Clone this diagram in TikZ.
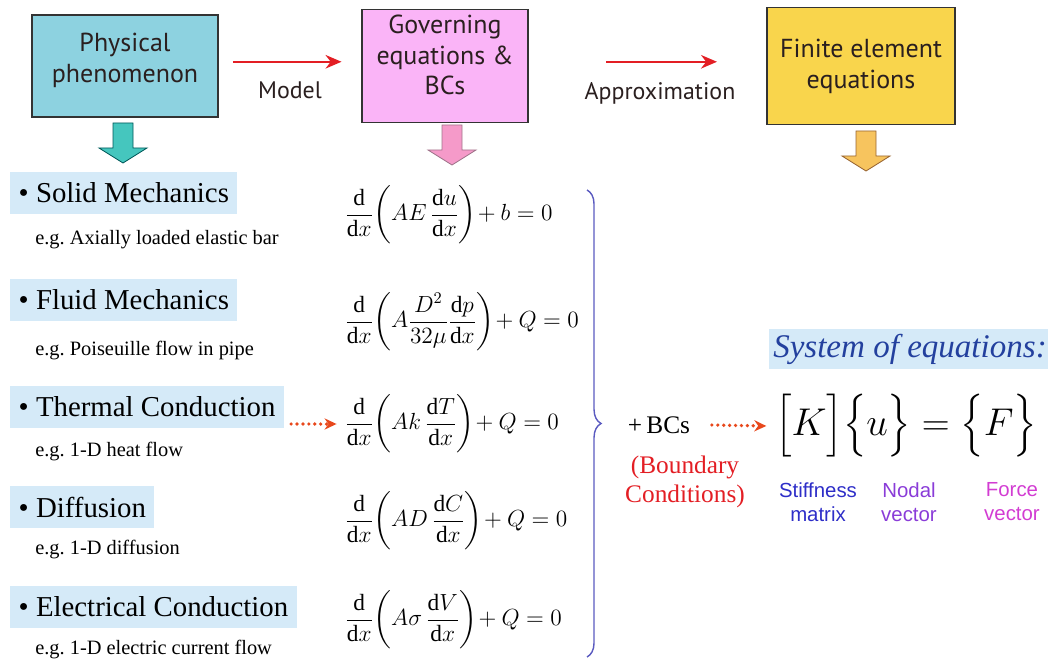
\RequirePackage{fix-cm}
\documentclass[tikz,border=0pt]{standalone}
\usepackage{amsmath}
\usepackage{fontspec}
\setmainfont{Liberation Serif}
\setsansfont{PT Sans}
\newfontfamily\arialfont{Liberation Sans}
\usetikzlibrary{arrows.meta,positioning,decorations.pathreplacing}
\definecolor{physbg}{HTML}{8DD2E0}
\definecolor{govbg}{HTML}{FAB4F7}
\definecolor{febg}{HTML}{F9D54C}
\definecolor{itembg}{HTML}{D5EAF8}
\definecolor{redx}{HTML}{E31E24}
\definecolor{dotx}{HTML}{E8481C}
\definecolor{bracex}{HTML}{5A5AC0}
\definecolor{sysblue}{HTML}{23409E}
\definecolor{stiffc}{HTML}{2E2EC8}
\definecolor{nodalc}{HTML}{8A3CD8}
\definecolor{forcec}{HTML}{D23CD2}
\definecolor{boxtext}{HTML}{2A1F1F}
\definecolor{arrcyan}{HTML}{45C6BE}
\definecolor{arrpink}{HTML}{F59AC9}
\definecolor{arryel}{HTML}{F7C45E}
\tikzset{
  ar/.style={-{Stealth[length=4mm,width=3.4mm]},line width=1.4pt,redx},
  dotar/.style={-{Stealth[length=3mm,width=2.8mm]},line width=2.6pt,dotx,line cap=round,
    dash pattern=on 0pt off 4.2pt},
  stepbox/.style={draw=black!80,line width=1.1pt,align=center,text=boxtext,
    font=\sffamily\fontsize{18.5}{22}\selectfont},
  sflabel/.style={font=\sffamily\fontsize{17}{20}\selectfont,text=boxtext},
  item/.style={fill=itembg,anchor=west,inner xsep=6pt,minimum height=30pt,
    font=\fontsize{20.5}{24}\selectfont},
  eg/.style={anchor=west,inner sep=0pt,font=\fontsize{14.5}{17}\selectfont},
  eqn/.style={anchor=west,inner sep=0pt,font=\fontsize{16.6}{19}\selectfont},
  vlabel/.style={align=center,font=\arialfont\fontsize{14.5}{17}\selectfont},
  downarr/.pic={\path[pic actions] (-10,0) -- (10,0) -- (10,25) -- (24,25) -- (0,40)
    -- (-24,25) -- (-10,25) -- cycle;}
}
\newcommand{\dd}{\mathrm{d}}

\begin{document}
\begin{tikzpicture}[x=0.025cm,y=-0.025cm]
\useasboundingbox (0,0) rectangle (1048,663);
\node[stepbox,fill=physbg,minimum width=4.65cm,minimum height=2.55cm,text depth=12pt] (phys) at (125,66) {Physical\\phenomenon};
\node[stepbox,fill=govbg,minimum width=4.15cm,minimum height=2.83cm,text depth=16pt] (gov) at (445,66) {Governing\\equations \&\\BCs};
\node[stepbox,fill=febg,minimum width=4.7cm,minimum height=2.93cm] (fe) at (861,66) {Finite element\\equations};
\draw[ar] ([xshift=10pt,yshift=3pt]phys.east) -- ([xshift=-14pt,yshift=3pt]gov.west);
\draw[ar] ([xshift=55pt,yshift=3pt]gov.east) -- ([xshift=-35pt,yshift=3pt]fe.west);
\node[sflabel] (model) at (290,90) {Model};
\node[sflabel] (approx) at (660,93) {Approximation};
\pic[fill=arrcyan,draw=teal!70!black,line width=0.6pt] at (123,123) {downarr};
\pic[fill=arrpink,draw=magenta!40!black!70,line width=0.6pt] at (452,125) {downarr};
\pic[fill=arryel,draw=orange!50!black!80,line width=0.6pt] at (866,131) {downarr};

\node[item] (solid) at (10,193) {\textbullet\ Solid Mechanics};
\node[item] (fluid) at (10,300) {\textbullet\ Fluid Mechanics};
\node[item] (thermal) at (10,407) {\textbullet\ Thermal Conduction};
\node[item] (diff) at (10,507) {\textbullet\ Diffusion};
\node[item] (elec) at (10,607) {\textbullet\ Electrical Conduction};
\node[eg] (egsolid) at (35,240) {e.g.\ Axially loaded elastic bar};
\node[eg] (egfluid) at (35,351) {e.g.\ Poiseuille flow in pipe};
\node[eg] (egthermal) at (35,452) {e.g.\ 1-D heat flow};
\node[eg] (egdiff) at (35,550) {e.g.\ 1-D diffusion};
\node[eg] (egelec) at (35,650) {e.g.\ 1-D electric current flow};

\node[eqn] (eqsolid) at (345,215) {$\displaystyle\frac{\dd}{\dd x}\!\left(AE\,\frac{\dd u}{\dd x}\right)\!+b=0$};
\node[eqn] (eqfluid) at (345,322) {$\displaystyle\frac{\dd}{\dd x}\!\left(A\frac{D^2}{32\mu}\frac{\dd p}{\dd x}\right)\!+Q=0$};
\node[eqn] (eqthermal) at (345,424) {$\displaystyle\frac{\dd}{\dd x}\!\left(Ak\,\frac{\dd T}{\dd x}\right)\!+Q=0$};
\node[eqn] (eqdiff) at (345,521) {$\displaystyle\frac{\dd}{\dd x}\!\left(AD\,\frac{\dd C}{\dd x}\right)\!+Q=0$};
\node[eqn] (eqelec) at (345,620) {$\displaystyle\frac{\dd}{\dd x}\!\left(A\sigma\,\frac{\dd V}{\dd x}\right)\!+Q=0$};
\draw[dotar] ([xshift=5pt]thermal.east |- eqthermal.west) -- ([xshift=-6pt]eqthermal.west);

\coordinate (bt) at (587,190);
\coordinate (bb) at (587,657);
\draw[bracex,line width=1pt,decorate,decoration={brace,amplitude=10pt}] (bt) -- (bb);
\node[font=\fontsize{18}{21}\selectfont] (bcs) at (659,425) {+\,BCs};
\node[align=center,text=redx,font=\fontsize{18}{21}\selectfont] (bcnote) at (685,482) {(Boundary\\Conditions)};

\node[fill=itembg,minimum width=7cm,minimum height=1cm,text=sysblue,
  font=\itshape\fontsize{23.5}{27}\selectfont] (syshead) at (910,349) {System of equations:};
\node[inner sep=0pt,font=\fontsize{27.5}{33}\selectfont] (sysmat) at (906,426) {$\Bigl[K\Bigr]\Bigl\{u\Bigr\}=\Bigl\{F\Bigr\}$};
\draw[dotar] ([xshift=12pt]bcs.east) -- ([xshift=-6pt]sysmat.west);
\node[vlabel,text=stiffc] (stiff) at (818,502) {Stiffness\\matrix};
\node[vlabel,text=nodalc] (nodal) at (909,502) {Nodal\\vector};
\node[vlabel,text=forcec] (force) at (1012,502) {Force\\vector};
\end{tikzpicture}
\end{document}
